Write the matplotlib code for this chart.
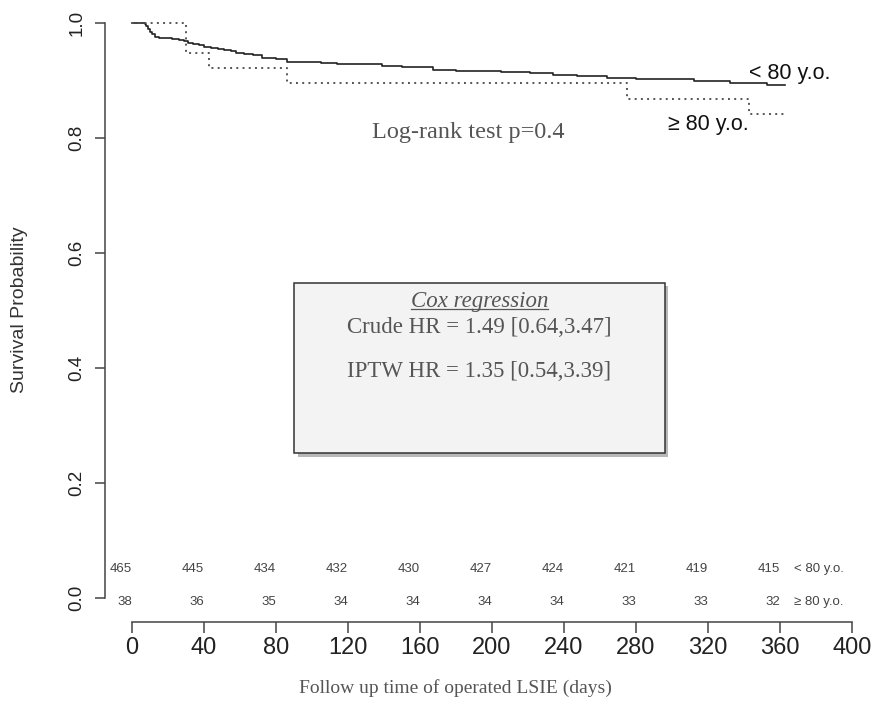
import matplotlib
matplotlib.use("Agg")
import matplotlib.pyplot as plt
import matplotlib.transforms as mtransforms
from matplotlib.patches import Rectangle
from matplotlib.lines import Line2D

plt.rcParams['font.family'] = ['Liberation Sans', 'DejaVu Sans']

# Kaplan-Meier steps: time (days) and survival after each step
young_t = [0, 7, 8, 9, 10, 11, 13, 15, 22, 26, 29, 31, 34, 37, 40, 44, 48, 51,
           55, 58, 62, 67, 72, 80, 86, 105, 114, 139, 150, 167, 180, 205, 221,
           234, 247, 264, 280, 312, 332, 353]
young_s = [1.0, 0.998, 0.994, 0.989, 0.985, 0.981, 0.976, 0.974, 0.972, 0.970,
           0.968, 0.966, 0.963, 0.961, 0.959, 0.957, 0.955, 0.953, 0.951, 0.948,
           0.946, 0.944, 0.940, 0.937, 0.933, 0.931, 0.929, 0.925, 0.923, 0.918,
           0.916, 0.915, 0.913, 0.910, 0.907, 0.904, 0.903, 0.899, 0.896, 0.892]
old_t = [0, 30, 43, 86, 275, 343]
old_s = [1.0, 0.947, 0.921, 0.895, 0.868, 0.842]
end_time = 363

# numbers at risk
risk_times = [0, 40, 80, 120, 160, 200, 240, 280, 320, 360]
risk_young = [465, 445, 434, 432, 430, 427, 424, 421, 419, 415]
risk_old = [38, 36, 35, 34, 34, 34, 34, 33, 33, 32]

x_ticks = [0, 40, 80, 120, 160, 200, 240, 280, 320, 360, 400]
y_ticks = [0.0, 0.2, 0.4, 0.6, 0.8, 1.0]

fig = plt.figure(figsize=(8.75, 7.03), dpi=100)
ax = fig.add_axes([105 / 875, 81 / 703, 765 / 875, 622 / 703])
ax.set_xlim(-15, 410)
ax.set_ylim(-0.0417, 1.04)

ax.step(young_t + [end_time], young_s + [young_s[-1]], where='post',
        color='#222222', lw=1.2)
ax.step(old_t + [end_time], old_s + [old_s[-1]], where='post',
        color='#555555', lw=1.4, ls=(0, (1, 2.2)))

# R-style axes
for side in ['top', 'right']:
    ax.spines[side].set_visible(False)
ax.spines['left'].set_bounds(0, 1)
ax.spines['bottom'].set_bounds(0, 400)
for side in ['left', 'bottom']:
    ax.spines[side].set_color('#444444')
    ax.spines[side].set_linewidth(1.1)
ax.set_xticks(x_ticks)
ax.set_yticks(y_ticks)
ax.set_yticklabels([f"{v:.1f}" for v in y_ticks], rotation=90, va='center')
ax.tick_params(axis='x', length=8, width=1.1, color='#444444', pad=3,
               labelsize=17, labelcolor='#222222')
ax.tick_params(axis='y', length=7, width=1.1, color='#444444', pad=7,
               labelsize=13.5, labelcolor='#222222')

fig.text(20 / 875, 1 - 310 / 703, 'Survival Probability', rotation=90,
         ha='center', va='center', fontsize=14, color='#333333')
fig.text(455 / 875, 1 - 688 / 703, 'Follow up time of operated LSIE (days)',
         ha='center', va='center', fontsize=14, color='#555555',
         family='Liberation Serif')

# group labels at curve ends
ax.text(343, 0.913, '< 80 y.o.', fontsize=15.5, color='#111111', va='center')
ax.text(298, 0.823, '\u2265 80 y.o.', fontsize=15.5, color='#111111', va='center')

ax.text(187, 0.809, 'Log-rank test p=0.4', fontsize=17.5, color='#555555',
        ha='center', va='center', family='Liberation Serif')

# risk table
for t, a, b in zip(risk_times, risk_young, risk_old):
    ax.text(t, 0.05, str(a), ha='right', va='center', fontsize=9.5, color='#444444')
    ax.text(t, -0.007, str(b), ha='right', va='center', fontsize=9.5, color='#444444')
ax.text(368, 0.05, '< 80 y.o.', ha='left', va='center', fontsize=9.5, color='#444444')
ax.text(368, -0.007, '\u2265 80 y.o.', ha='left', va='center', fontsize=9.5,
        color='#444444')

# Cox regression box with drop shadow
bx0, bx1, by0, by1 = 90, 296, 0.252, 0.548
shadow_tr = mtransforms.offset_copy(ax.transData, fig=fig, x=3.5, y=-3.5,
                                    units='dots')
ax.add_patch(Rectangle((bx0, by0), bx1 - bx0, by1 - by0, transform=shadow_tr,
                       facecolor='#9a9a9a', edgecolor='none', alpha=0.7,
                       zorder=4))
ax.add_patch(Rectangle((bx0, by0), bx1 - bx0, by1 - by0, facecolor='#f3f3f3',
                       edgecolor='#333333', lw=1.1, zorder=5))
bxc = (bx0 + bx1) / 2
cox = ax.text(bxc, 0.515, 'Cox regression', ha='center', va='center',
              fontsize=16.5, style='italic', color='#555555',
              family='Liberation Serif', zorder=6)
ax.text(bxc, 0.471, 'Crude HR = 1.49 [0.64,3.47]', ha='center', va='center',
        fontsize=16.5, color='#555555', family='Liberation Serif', zorder=6)
ax.text(bxc, 0.394, 'IPTW HR = 1.35 [0.54,3.39]', ha='center', va='center',
        fontsize=16.5, color='#555555', family='Liberation Serif', zorder=6)

# underline the box title
fig.canvas.draw()
bb = cox.get_window_extent().transformed(fig.transFigure.inverted())
uy = bb.y0 + 3 / 703
fig.add_artist(Line2D([bb.x0, bb.x1], [uy, uy], color='#555555', lw=0.9,
                      transform=fig.transFigure, zorder=7))

fig.savefig('out.png', dpi=100)
